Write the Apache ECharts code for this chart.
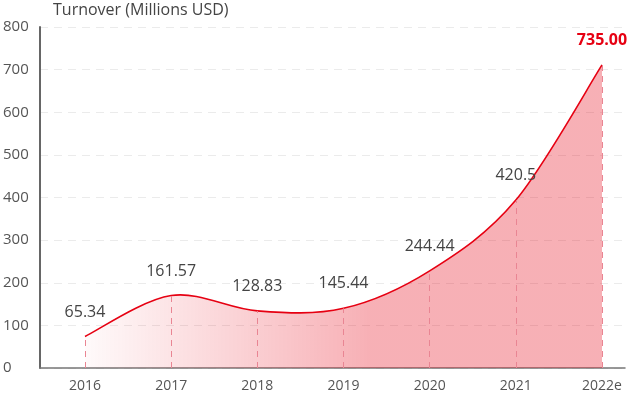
<!DOCTYPE html>
<html>
<head>
<meta charset="utf-8">
<script src="https://cdn.jsdelivr.net/npm/echarts@6/dist/echarts.min.js"></script>
<style>html,body{margin:0;padding:0;background:#fff}#c{width:630px;height:396px}</style>
</head>
<body>
<div id="c"></div>
<script>
const categories = ['2016', '2017', '2018', '2019', '2020', '2021', '2022e'];
const values = [74, 170, 134, 140, 228, 394, 711];
const valueLabels = ['65.34', '161.57', '128.83', '145.44', '244.44', '420.5', '735.00'];
const yMin = 0, yMax = 800, yStep = 100;
const titleText = 'Turnover (Millions USD)';

const chart = echarts.init(document.getElementById('c'), null, {renderer: 'canvas'});
const FONT = 'Open Sans';
const last = values.length - 1;

// Catmull-Rom curve through the points, positioned by the axes (api.coord)
function renderCurve(params, api) {
  if (params.dataIndex !== 0) return null;
  const pts = values.map((v, i) => api.coord([i, v]));
  const base = api.coord([0, yMin])[1];
  let d = 'M' + pts[0][0] + ',' + pts[0][1];
  for (let i = 0; i < pts.length - 1; i++) {
    const p0 = pts[Math.max(0, i - 1)], p1 = pts[i], p2 = pts[i + 1], p3 = pts[Math.min(pts.length - 1, i + 2)];
    const c1 = [p1[0] + (p2[0] - p0[0]) / 6, p1[1] + (p2[1] - p0[1]) / 6];
    const c2 = [p2[0] - (p3[0] - p1[0]) / 6, p2[1] - (p3[1] - p1[1]) / 6];
    d += ' C' + c1[0] + ',' + c1[1] + ' ' + c2[0] + ',' + c2[1] + ' ' + p2[0] + ',' + p2[1];
  }
  const area = d + ' L' + pts[pts.length - 1][0] + ',' + base + ' L' + pts[0][0] + ',' + base + ' Z';
  return {
    type: 'group',
    children: [
      {type: 'path', shape: {pathData: area}, silent: true,
        style: {fill: new echarts.graphic.LinearGradient(0, 0, 1, 0, [
          {offset: 0, color: 'rgba(230,0,18,0.02)'},
          {offset: 0.55, color: 'rgba(230,0,18,0.31)'},
          {offset: 1, color: 'rgba(230,0,18,0.31)'}
        ]), stroke: null}},
      {type: 'path', shape: {pathData: d}, silent: true,
        style: {fill: null, stroke: '#e60012', lineWidth: 1.6}}
    ]
  };
}

chart.setOption({
  animation: false,
  textStyle: {fontFamily: FONT},
  title: {
    text: titleText, left: 53, top: 2, padding: 0,
    textStyle: {fontFamily: FONT, fontSize: 16, fontWeight: 'normal', color: '#444'}
  },
  grid: [
    {left: 38, right: 5, top: 27, bottom: 28},
    {left: 85, right: 28, top: 27, bottom: 28}
  ],
  xAxis: [
    {gridIndex: 0, type: 'category', data: categories,
      axisLine: {show: true, lineStyle: {color: '#777', width: 1.5}},
      axisTick: {show: false}, axisLabel: {show: false}, splitLine: {show: false}},
    {gridIndex: 1, type: 'category', boundaryGap: false, data: categories,
      axisLine: {show: false}, axisTick: {show: false},
      axisLabel: {color: '#555', fontSize: 14, margin: 11, fontFamily: FONT},
      splitLine: {show: false}}
  ],
  yAxis: [
    {gridIndex: 0, type: 'value', min: yMin, max: yMax, interval: yStep,
      axisLine: {show: true, lineStyle: {color: '#666', width: 2}},
      axisTick: {show: false},
      axisLabel: {align: 'left', margin: 37, color: '#555', fontSize: 15, fontFamily: FONT},
      splitLine: {show: true, lineStyle: {color: '#ebebeb', type: [8, 6], width: 1}}},
    {gridIndex: 1, type: 'value', min: yMin, max: yMax, interval: yStep, show: false}
  ],
  series: [
    {
      type: 'custom',
      xAxisIndex: 1, yAxisIndex: 1,
      renderItem: renderCurve,
      data: values.map((v, i) => [i, v]),
      z: 2
    },
    {
      type: 'line',
      xAxisIndex: 1, yAxisIndex: 1,
      data: values,
      symbol: 'circle', symbolSize: 1,
      itemStyle: {color: 'rgba(0,0,0,0)'},
      lineStyle: {width: 0, opacity: 0},
      z: 3,
      label: {
        show: true, position: 'top', distance: 16,
        formatter: p => (p.dataIndex === last ? '{hl|' : '{n|') + valueLabels[p.dataIndex] + '}',
        rich: {
          n: {color: '#444', fontSize: 16, fontFamily: FONT},
          hl: {color: '#e60012', fontSize: 16, fontWeight: 'bold', fontFamily: FONT}
        }
      },
      markLine: {
        silent: true,
        symbol: ['none', 'none'],
        label: {show: false},
        lineStyle: {color: '#e98593', type: [6, 5], width: 1, opacity: 1},
        emphasis: {disabled: true},
        data: categories.map((c, i) => [{coord: [c, 0]}, {coord: [c, values[i]]}])
      }
    }
  ]
});
</script>
</body>
</html>
